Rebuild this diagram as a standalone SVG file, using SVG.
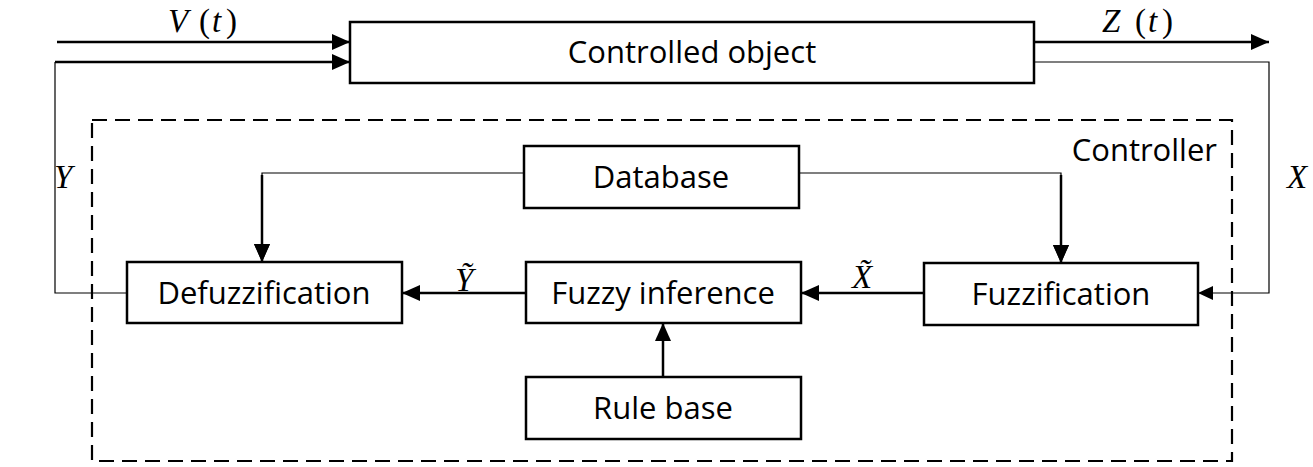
<svg xmlns="http://www.w3.org/2000/svg" width="1313" height="467" viewBox="0 0 1313 467">
<style>
.box{fill:#fff;stroke:#000;stroke-width:2.5}
.lbl{font-family:"Open Sans",sans-serif;font-size:31px;fill:#000;text-anchor:middle}
.math{font-family:"Liberation Serif","Times New Roman",serif;font-size:33px;font-style:italic;fill:#000}
.big{font-size:33px}
.up{font-style:normal}
.thick{fill:none;stroke:#000;stroke-width:2.5}
.thin{fill:none;stroke:#000;stroke-width:1.2}
.dash{fill:none;stroke:#000;stroke-width:2.2;stroke-dasharray:15 8}
</style>
<defs>
<marker id="ah" markerUnits="userSpaceOnUse" markerWidth="18" markerHeight="16" viewBox="0 0 18 16" refX="18" refY="8" orient="auto">
<path d="M0,0 L18,8 L0,16 Z" fill="#000"/>
</marker>
<marker id="ahs" markerUnits="userSpaceOnUse" markerWidth="15" markerHeight="14" viewBox="0 0 15 14" refX="15" refY="7" orient="auto">
<path d="M0,0 L15,7 L0,14 Z" fill="#000"/>
</marker>
</defs>

<g id="controller-boundary">
<rect class="dash" x="92" y="120" width="1140" height="341"/>
<text class="lbl" x="1217" y="161" style="text-anchor:end">Controller</text>
</g>

<g id="connectors">
<line class="thick" x1="57" y1="42" x2="350" y2="42" marker-end="url(#ah)"/>
<line class="thick" x1="55" y1="62" x2="350" y2="62" marker-end="url(#ah)"/>
<path class="thin" d="M127,293 H55 V62"/>
<line class="thick" x1="1034" y1="42" x2="1269" y2="42" marker-end="url(#ah)"/>
<path class="thin" d="M1034,62 H1269 V293 H1198" marker-end="url(#ahs)"/>
<path class="thin" d="M524,173 H262 V262" marker-end="url(#ah)"/>
<path class="thick" d="M262,175 V262" marker-end="url(#ah)"/>
<path class="thin" d="M799,173 H1061 V263" marker-end="url(#ah)"/>
<path class="thick" d="M1061,175 V263" marker-end="url(#ah)"/>
<line class="thick" x1="924" y1="293" x2="801" y2="293" marker-end="url(#ah)"/>
<line class="thick" x1="526" y1="293" x2="402" y2="293" marker-end="url(#ah)"/>
<line class="thick" x1="663" y1="377" x2="663" y2="323" marker-end="url(#ah)"/>
</g>

<g id="labels">
<text class="math big" y="32"><tspan x="168">V</tspan><tspan class="up" x="199">(</tspan><tspan x="212">t</tspan><tspan class="up" x="226">)</tspan></text>
<text class="math big" y="32"><tspan x="1102">Z</tspan><tspan class="up" x="1135">(</tspan><tspan x="1148">t</tspan><tspan class="up" x="1162">)</tspan></text>
<text class="math" x="54" y="188">Y</text>
<text class="math" x="1287" y="188">X</text>
<text class="math" x="455" y="291">Y&#x303;</text>
<text class="math" x="852" y="288">X&#x303;</text>
</g>

<g id="controlled-object">
<rect class="box" x="350" y="22" width="684" height="61"/>
<text class="lbl" x="692" y="63">Controlled object</text>
</g>
<g id="database">
<rect class="box" x="524" y="146" width="275" height="62"/>
<text class="lbl" x="661" y="188">Database</text>
</g>
<g id="defuzzification">
<rect class="box" x="127" y="262" width="275" height="61"/>
<text class="lbl" x="264" y="304">Defuzzification</text>
</g>
<g id="fuzzy-inference">
<rect class="box" x="526" y="262" width="275" height="61"/>
<text class="lbl" x="663" y="304">Fuzzy inference</text>
</g>
<g id="fuzzification">
<rect class="box" x="924" y="263" width="274" height="62"/>
<text class="lbl" x="1061" y="305">Fuzzification</text>
</g>
<g id="rule-base">
<rect class="box" x="526" y="377" width="275" height="62"/>
<text class="lbl" x="663" y="419">Rule base</text>
</g>
</svg>
